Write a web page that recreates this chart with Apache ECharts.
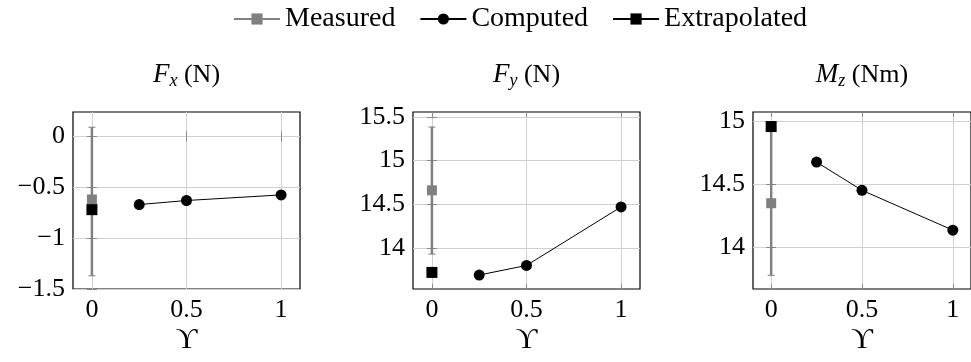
<!DOCTYPE html>
<html>
<head>
<meta charset="utf-8">
<script src="https://cdn.jsdelivr.net/npm/echarts@6/dist/echarts.min.js"></script>
<style>
	html, body { margin: 0; background: #fff; }
	#chart { width: 971px; height: 362px; }
</style>
</head>
<body>
<div id="chart"></div>
<script>
// data
const upsilon = [0.25, 0.5, 1];
const computedFx = [-0.67, -0.63, -0.575];
const computedFy = [13.69, 13.80, 14.47];
const computedMz = [14.675, 14.452, 14.137];
const measured = [-0.62, 14.66, 14.35];
const measuredLow = [-1.37, 13.93, 13.78];
const measuredHigh = [0.09, 15.385, 14.92];
const extrapolated = [-0.72, 13.72, 14.956];
const quantities = ['F', 'F', 'M'];
const subscripts = ['x', 'y', 'z'];
const units = ['N', 'N', 'Nm'];
const computed = [computedFx, computedFy, computedMz];

// tick labels
const xTicks = [0, 0.5, 1];
const yTicksFx = [-1.5, -1, -0.5, 0];
const yTicksFy = [14, 14.5, 15, 15.5];
const yTicksMz = [14, 14.5, 15];
const yTicks = [yTicksFx, yTicksFy, yTicksMz];

// axis ranges (pgfplots enlarges limits)
const yMins = [-1.5, 13.53, 13.672];
const yMaxs = [0.24, 15.557, 15.071];
const gridLefts = [73, 413, 753];

const FONT = 'Liberation Serif';
const GRAY = '#808080';

function fmt(v) {
	return String(+v.toFixed(1)).replace('-', '\u2212');
}

let grid = [], xAxis = [], yAxis = [], series = [];

function tick(values) {
	return { inside: true, length: 5, customValues: values, lineStyle: { color: '#888', width: 1 } };
}

for (let i = 0; i < 3; i++) {
	grid.push({ left: gridLefts[i], top: 112, width: 227, height: 177,
		show: true, borderColor: '#000', borderWidth: 1.2, backgroundColor: 'transparent' });

	xAxis.push({
		type: 'value', gridIndex: i, min: -0.1, max: 1.1,
		axisLine: { show: false }, axisTick: tick(xTicks),
		splitLine: { lineStyle: { color: '#d0d0d0', width: 1 } },
		axisLabel: { customValues: xTicks, formatter: fmt, color: '#000', fontFamily: FONT, fontSize: 26, margin: 8 },
		name: '\u03D2', nameLocation: 'middle', nameGap: 36,
		nameTextStyle: { color: '#000', fontFamily: 'Liberation Serif, DejaVu Serif', fontSize: 30 }
	});
	// top copy: ticks + panel title
	xAxis.push({
		type: 'value', gridIndex: i, position: 'top', min: -0.1, max: 1.1,
		axisLine: { show: false }, axisTick: tick(xTicks), splitLine: { show: false },
		axisLabel: { show: false },
		name: `{q|${quantities[i]}}{s|${subscripts[i]}}{u| (${units[i]})}`,
		nameLocation: 'middle', nameGap: 22,
		nameTextStyle: { color: '#000', rich: {
			q: { fontFamily: FONT, fontStyle: 'italic', fontSize: 27, lineHeight: 30, color: '#000' },
			s: { fontFamily: FONT, fontStyle: 'italic', fontSize: 18, lineHeight: 14, verticalAlign: 'bottom', color: '#000' },
			u: { fontFamily: FONT, fontSize: 26, lineHeight: 30, color: '#000' }
		} }
	});
	yAxis.push({
		type: 'value', gridIndex: i, min: yMins[i], max: yMaxs[i],
		axisLine: { show: false }, axisTick: tick(yTicks[i]),
		splitLine: { lineStyle: { color: '#d0d0d0', width: 1 } },
		axisLabel: { customValues: yTicks[i], formatter: fmt, color: '#000', fontFamily: FONT, fontSize: 26, margin: 8 }
	});
	yAxis.push({
		type: 'value', gridIndex: i, position: 'right', min: yMins[i], max: yMaxs[i],
		axisLine: { show: false }, axisTick: tick(yTicks[i]), splitLine: { show: false },
		axisLabel: { show: false }
	});

	let xi = i * 2, yi = i * 2;
	series.push({
		type: 'custom', xAxisIndex: xi, yAxisIndex: yi, z: 2,
		data: [[0, measuredLow[i], measuredHigh[i]]],
		encode: { x: 0, y: [1, 2] },
		renderItem(params, api) {
			let top = api.coord([api.value(0), api.value(2)]);
			let bot = api.coord([api.value(0), api.value(1)]);
			let cap = (y) => ({ type: 'line', shape: { x1: top[0] - 3.5, y1: y, x2: top[0] + 3.5, y2: y },
				style: { stroke: GRAY, lineWidth: 1 } });
			return { type: 'group', children: [
				{ type: 'line', shape: { x1: top[0], y1: top[1], x2: bot[0], y2: bot[1] },
					style: { stroke: GRAY, lineWidth: 2.5 } },
				cap(top[1]), cap(bot[1])
			] };
		}
	});
	series.push({
		name: 'Measured', type: 'line', xAxisIndex: xi, yAxisIndex: yi, z: 3,
		data: [[0, measured[i]]], symbol: 'rect', symbolSize: 10, showSymbol: true,
		itemStyle: { color: GRAY }, lineStyle: { color: GRAY, width: 1.5 }
	});
	series.push({
		name: 'Computed', type: 'line', xAxisIndex: xi, yAxisIndex: yi, z: 4,
		data: upsilon.map((u, k) => [u, computed[i][k]]),
		symbol: 'circle', symbolSize: 11,
		itemStyle: { color: '#000' }, lineStyle: { color: '#000', width: 1 }
	});
	series.push({
		name: 'Extrapolated', type: 'line', xAxisIndex: xi, yAxisIndex: yi, z: 5,
		data: [[0, extrapolated[i]]], symbol: 'rect', symbolSize: 11, showSymbol: true,
		itemStyle: { color: '#000' }, lineStyle: { color: '#000', width: 1.5 }
	});
}

let chart = echarts.init(document.getElementById('chart'));
chart.setOption({
	animation: false,
	legend: {
		data: ['Measured', 'Computed', 'Extrapolated'],
		left: 228, top: 0, itemWidth: 46, itemHeight: 14, itemGap: 24,
		selectedMode: false,
		textStyle: { fontFamily: FONT, fontSize: 28, color: '#000' }
	},
	grid, xAxis, yAxis, series
});
</script>
</body>
</html>
